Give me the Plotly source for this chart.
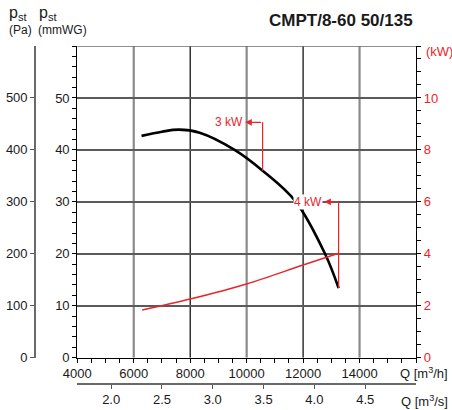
import plotly.graph_objects as go

# ---------------- data ----------------
title_text = "CMPT/8-60 50/135"
# pressure curve (Q in m3/h, p in mmWG)
q_pressure = [6276, 7000, 7600, 8336, 9572, 10565, 11731, 12777, 13258]
p_pressure = [42.7, 43.5, 43.9, 43.3, 40.0, 36.0, 30.1, 20.0, 13.4]
# absorbed power curve (Q in m3/h, kW)
q_power = [6300, 8000, 10000, 12000, 13258]
kw_power = [1.84, 2.26, 2.84, 3.57, 4.02]
# power markers on the pressure curve
marker_q = [10565, 13258]
marker_p = [36.0, 13.4]
marker_top = [45.3, 30.0]
marker_tip = [9950, 12750]
marker_label = ["3 kW", "4 kW"]
# axes
q_ticks = [4000, 6000, 8000, 10000, 12000, 14000]
q_grid = [6000, 8000, 10000, 12000, 14000]
mmwg_ticks = [0, 10, 20, 30, 40, 50]
pa_ticks = [0, 100, 200, 300, 400, 500]
kw_ticks = [0, 2, 4, 6, 8, 10]
qs_ticks = [2.0, 2.5, 3.0, 3.5, 4.0, 4.5]
q_range = [4000, 16000]
mmwg_range = [0, 60]
kw_range = [0, 12]
qs_range = [1.6667, 5.0]
PA_PER_MMWG = 9.80665

# ---------------- geometry helpers ----------------
W, H = 452, 410
L, R, T, B = 35, 36, 40, 26
PW, PH = W - L - R, H - T - B


def fx(px):
    return (px - L) / PW


def fy(py):
    return (H - B - py) / PH


plot_left, plot_top, plot_bottom = 77.3, 46.0, 357.7
ydom = [fy(plot_bottom), fy(plot_top)]
pa_top = mmwg_range[1] * PA_PER_MMWG * (plot_bottom - T) / (plot_bottom - plot_top)

RED = "#e8262a"
FONT = "Liberation Sans, Arial, Helvetica, sans-serif"
TXT = "#1a1a1a"

fig = go.Figure()

# power curve
fig.add_trace(go.Scatter(x=q_power, y=kw_power, mode="lines",
                         line=dict(color=RED, width=1.5, shape="spline", smoothing=1.0),
                         xaxis="x", yaxis="y3", hoverinfo="skip", showlegend=False))
# pressure curve
fig.add_trace(go.Scatter(x=q_pressure, y=p_pressure, mode="lines",
                         line=dict(color="black", width=2.6, shape="spline", smoothing=1.0),
                         xaxis="x", yaxis="y", hoverinfo="skip", showlegend=False))
# marker leader lines
for q, p, top, tip in zip(marker_q, marker_p, marker_top, marker_tip):
    fig.add_trace(go.Scatter(x=[q, q], y=[p, top], mode="lines",
                             line=dict(color=RED, width=1.2),
                             xaxis="x", yaxis="y", hoverinfo="skip", showlegend=False))
# dummy traces so the secondary axes get drawn
fig.add_trace(go.Scatter(x=[None], y=[None], xaxis="x", yaxis="y2", mode="lines",
                         hoverinfo="skip", showlegend=False))
fig.add_trace(go.Scatter(x=[None], y=[None], xaxis="x2", yaxis="y", mode="lines",
                         hoverinfo="skip", showlegend=False))

annotations = []
for q, top, tip, lab in zip(marker_q, marker_top, marker_tip, marker_label):
    annotations.append(dict(x=tip, y=top, xref="x", yref="y", text=lab, showarrow=False,
                            xanchor="right", yanchor="middle", xshift=-1, bgcolor="white",
                            borderpad=0,
                            font=dict(family=FONT, size=12, color=RED)))
    annotations.append(dict(x=tip, y=top, ax=q, ay=top, xref="x", yref="y", axref="x", ayref="y",
                            text="", showarrow=True, arrowhead=2, arrowsize=1.1, arrowwidth=1.2,
                            arrowcolor=RED))

# texts
annotations += [
    dict(x=fx(415), y=fy(21), xref="paper", yref="paper", text="<b>" + title_text + "</b>",
         showarrow=False, xanchor="right", yanchor="middle", font=dict(family=FONT, size=17, color=TXT)),
    dict(x=fx(424), y=fy(52), xref="paper", yref="paper", text="(kW)", showarrow=False,
         xanchor="left", yanchor="middle", font=dict(family=FONT, size=13, color=RED)),
    dict(x=fx(7), y=fy(13), xref="paper", yref="paper", text="p<sub>st</sub>", showarrow=False,
         xanchor="left", yanchor="middle", font=dict(family=FONT, size=16, color=TXT)),
    dict(x=fx(37), y=fy(13), xref="paper", yref="paper", text="p<sub>st</sub>", showarrow=False,
         xanchor="left", yanchor="middle", font=dict(family=FONT, size=16, color=TXT)),
    dict(x=fx(7), y=fy(30), xref="paper", yref="paper", text="(Pa)", showarrow=False,
         xanchor="left", yanchor="middle", font=dict(family=FONT, size=12, color=TXT)),
    dict(x=fx(36), y=fy(30), xref="paper", yref="paper", text="(mmWG)", showarrow=False,
         xanchor="left", yanchor="middle", font=dict(family=FONT, size=12, color=TXT)),
    dict(x=fx(450), y=fy(373), xref="paper", yref="paper", text="Q [m<sup>3</sup>/h]", showarrow=False,
         xanchor="right", yanchor="middle", font=dict(family=FONT, size=13, color=TXT)),
    dict(x=fx(450), y=fy(401), xref="paper", yref="paper", text="Q [m<sup>3</sup>/s]", showarrow=False,
         xanchor="right", yanchor="middle", font=dict(family=FONT, size=13, color=TXT)),
]

shapes = []
for i, q in enumerate(q_grid):
    black = (i % 2 == 1)
    shapes.append(dict(type="line", xref="x", yref="y", x0=q, x1=q, y0=mmwg_range[0], y1=mmwg_range[1],
                       line=dict(color="black" if black else "#8a8a8a", width=1.2 if black else 2.2),
                       layer="below"))
shapes.append(dict(type="line", xref="x", yref="y", x0=q_range[0], x1=q_range[1],
                   y0=mmwg_range[1], y1=mmwg_range[1], line=dict(color="#6a6a6a", width=1.6), layer="below"))

axis_font = dict(family=FONT, size=13, color=TXT)

fig.update_layout(
    width=W, height=H, margin=dict(l=L, r=R, t=T, b=B, autoexpand=False),
    paper_bgcolor="white", plot_bgcolor="white",
    showlegend=False,
    xaxis=dict(domain=[fx(plot_left), 1], range=q_range, tickvals=q_ticks, automargin=False,
               ticktext=[str(v) for v in q_ticks], ticks="outside", ticklen=4, tickcolor="black",
               minor=dict(dtick=500, ticks="outside", ticklen=4, tickcolor="black"),
               showline=True, linecolor="black", linewidth=1.2, showgrid=False, zeroline=False,
               tickfont=axis_font, anchor="y"),
    yaxis=dict(domain=ydom, range=mmwg_range, tickvals=mmwg_ticks, ticks="outside", ticklen=4,
               automargin=False,
               tickcolor="black", minor=dict(dtick=2, ticks="outside", ticklen=4, tickcolor="black"),
               showline=True, linecolor="black", linewidth=1.2, showgrid=True, gridcolor="#5a5a5a",
               gridwidth=1.5, zeroline=False, tickfont=axis_font, anchor="x"),
    yaxis2=dict(domain=[ydom[0], 1], range=[0, pa_top], tickvals=pa_ticks, ticks="outside",
                automargin=False,
                ticklen=4, tickcolor="#555", showline=True, linecolor="#6a6a6a", linewidth=1.6,
                showgrid=False, zeroline=False, tickfont=axis_font, anchor="free", position=0,
                overlaying="y"),
    yaxis3=dict(domain=ydom, range=kw_range, tickvals=kw_ticks, ticks="outside", ticklen=4,
                tickcolor="black", automargin=False,
                minor=dict(dtick=0.5, ticks="outside", ticklen=4, tickcolor="black"),
                showline=True, linecolor="black", linewidth=1.2, showgrid=False, zeroline=False,
                tickfont=dict(family=FONT, size=13, color=RED), side="right", overlaying="y",
                anchor="x"),
    xaxis2=dict(domain=[fx(plot_left), 1], range=qs_range, tickvals=qs_ticks, automargin=False,
                ticktext=["%.1f" % v for v in qs_ticks], ticks="outside", ticklen=4, tickcolor="#555",
                showline=True, linecolor="#6a6a6a", linewidth=1.6, showgrid=False, zeroline=False,
                tickfont=axis_font, anchor="free", position=0, overlaying="x"),
    annotations=annotations,
    shapes=shapes,
)

fig.write_html("out.html")
